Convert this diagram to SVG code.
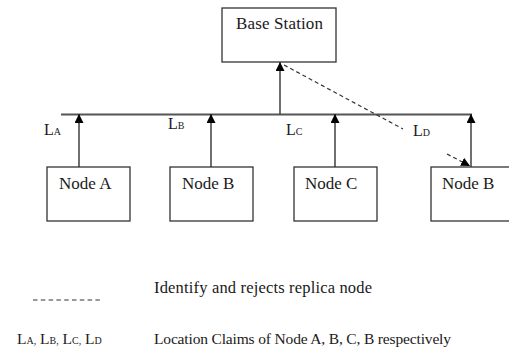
<svg xmlns="http://www.w3.org/2000/svg" width="509" height="351" viewBox="0 0 509 351" font-family="'Liberation Serif', 'Times New Roman', serif">
<style>
.box{fill:#fff;stroke:#333;stroke-width:1.3}
text{font-family:"Liberation Serif","Times New Roman",serif;fill:#1a1a1a}
.nt{font-size:17px}
.lbl{font-size:16px}
.sub{font-size:10px}
.leg{font-size:15.5px}
.conn{stroke:#222;stroke-width:1.3;fill:none}
.bus{stroke:#555;stroke-width:2;fill:none}
.dash{stroke:#333;stroke-width:1.2;fill:none;stroke-dasharray:4 3}
</style>
<defs>
<marker id="ah" viewBox="0 0 10 10" refX="10" refY="5" markerWidth="9" markerHeight="9" markerUnits="userSpaceOnUse" orient="auto">
<path d="M0,0 L10,5 L0,10 Z" fill="#000"/>
</marker>
</defs>
<g id="connectors">
<path class="bus" d="M61,114.5 H472"/>
<path class="conn" d="M280,114 V62" marker-end="url(#ah)"/>
<path class="conn" d="M79,167 V114" marker-end="url(#ah)"/>
<path class="conn" d="M211,167 V114" marker-end="url(#ah)"/>
<path class="conn" d="M335,167 V114" marker-end="url(#ah)"/>
<path class="conn" d="M471,167 V114" marker-end="url(#ah)"/>
<path class="dash" d="M284,65 L403,129"/>
<path class="dash" d="M447,154 L470,166" marker-end="url(#ah)"/>
</g>
<g id="base-station">
<rect class="box" x="222" y="8" width="114" height="54"/>
<text class="nt" x="236" y="29" textLength="87">Base Station</text>
</g>
<g id="node-a">
<rect class="box" x="47" y="167" width="83" height="54"/>
<text class="nt" x="59" y="189">Node A</text>
</g>
<g id="node-b">
<rect class="box" x="170" y="167" width="83" height="54"/>
<text class="nt" x="182" y="189">Node B</text>
</g>
<g id="node-c">
<rect class="box" x="294" y="167" width="83" height="54"/>
<text class="nt" x="305" y="189">Node C</text>
</g>
<g id="node-b2">
<rect class="box" x="431" y="167" width="80" height="54"/>
<text class="nt" x="442" y="189">Node B</text>
</g>
<g id="labels">
<text class="lbl" x="44" y="135">L<tspan class="sub">A</tspan></text>
<text class="lbl" x="168" y="129">L<tspan class="sub">B</tspan></text>
<text class="lbl" x="286" y="135">L<tspan class="sub">C</tspan></text>
<text class="lbl" x="413" y="136">L<tspan class="sub">D</tspan></text>
</g>
<g id="legend">
<path class="dash" d="M33,300 H103" style="stroke-dasharray:4.5 3.3"/>
<text class="leg" x="154" y="293" textLength="218" style="font-size:16.5px">Identify and rejects replica node</text>
<text class="leg" x="17" y="344">L<tspan class="sub">A,</tspan> L<tspan class="sub">B,</tspan> L<tspan class="sub">C,</tspan> L<tspan class="sub">D</tspan></text>
<text class="leg" x="154" y="344" textLength="297">Location Claims of Node A, B, C, B respectively</text>
</g>
</svg>
